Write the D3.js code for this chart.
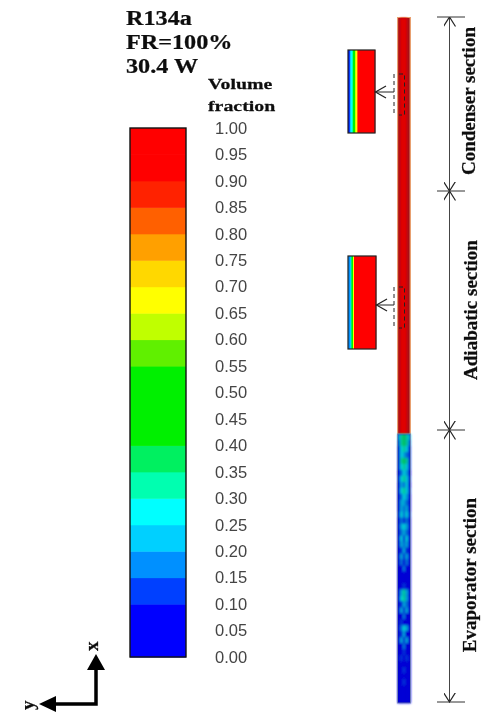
<!DOCTYPE html>
<html>
<head>
<meta charset="utf-8">
<script src="https://cdn.jsdelivr.net/npm/d3@7"></script>
<style>
  html, body { margin: 0; padding: 0; background: #fff; }
  svg { display: block; }
  .serif { font-family: "Liberation Serif", serif; font-weight: bold; fill: #111; stroke: #111; stroke-width: 0.25px; }
</style>
</head>
<body>
<svg width="482" height="716"></svg>
<script>
const titleLines = ["R134a", "FR=100%", "30.4 W"];
const legendTitle = ["Volume", "fraction"];
const tickValues = [0, 0.05, 0.1, 0.15, 0.2, 0.25, 0.3, 0.35, 0.4, 0.45, 0.5, 0.55, 0.6, 0.65, 0.7, 0.75, 0.8, 0.85, 0.9, 0.95, 1];
// one colour per 0.05 band, from 0.00 upward
const bandColors = ["#0000ff", "#0000ff", "#0040ff", "#0090ff", "#00d0ff", "#00ffff", "#00ffb0", "#00f060",
  "#00f000", "#00f000", "#00f000", "#60f000", "#c0ff00", "#ffff00", "#ffd800", "#ffa000",
  "#ff6000", "#ff2000", "#ff0000", "#ff0000"];
const sections = ["Condenser section", "Adiabatic section", "Evaporator section"];

// volume fraction across the wall in the two enlarged views
const insetCondenser = [0.02, 0.12, 0.22, 0.27, 0.32, 0.42, 0.47, 0.62, 0.67, 0.8, 0.95, 0.95, 0.95, 0.95, 0.95, 0.95, 0.95, 0.95, 0.95, 0.95, 0.95, 0.95, 0.95, 0.95, 0.95, 0.95, 0.95];
const insetAdiabatic = [0.17, 0.17, 0.22, 0.37, 0.47, 0.67, 0.95, 0.95, 0.95, 0.95, 0.95, 0.95, 0.95, 0.95, 0.95, 0.95, 0.95, 0.95, 0.95, 0.95, 0.95, 0.95, 0.95, 0.95, 0.95, 0.95, 0.95, 0.95];

// evaporator tube read top to bottom, five cells across
const evaporatorCells = [
  [0.22, 0.32, 0.37, 0.32, 0.22],
  [0.17, 0.32, 0.37, 0.32, 0.17],
  [0.12, 0.27, 0.32, 0.27, 0.12],
  [0.12, 0.27, 0.22, 0.17, 0.12],
  [0.12, 0.32, 0.37, 0.32, 0.12],
  [0.12, 0.27, 0.32, 0.27, 0.12],
  [0.07, 0.17, 0.27, 0.22, 0.07],
  [0.12, 0.27, 0.32, 0.27, 0.12],
  [0.07, 0.22, 0.17, 0.27, 0.07],
  [0.07, 0.27, 0.32, 0.27, 0.12],
  [0.07, 0.17, 0.27, 0.22, 0.07],
  [0.07, 0.22, 0.22, 0.17, 0.07],
  [0.07, 0.22, 0.17, 0.22, 0.07],
  [0.12, 0.27, 0.17, 0.27, 0.12],
  [0.07, 0.17, 0.12, 0.17, 0.07],
  [0.07, 0.22, 0.27, 0.22, 0.07],
  [0.02, 0.17, 0.22, 0.17, 0.02],
  [0.07, 0.27, 0.12, 0.27, 0.07],
  [0.02, 0.22, 0.17, 0.22, 0.02],
  [0.07, 0.12, 0.22, 0.12, 0.07],
  [0.07, 0.22, 0.12, 0.22, 0.07],
  [0.02, 0.17, 0.07, 0.17, 0.02],
  [0.02, 0.07, 0.17, 0.07, 0.02],
  [0.02, 0.07, 0.02, 0.07, 0.02],
  [0.02, 0.02, 0.07, 0.02, 0.02],
  [0.02, 0.07, 0.12, 0.07, 0.02],
  [0.02, 0.22, 0.32, 0.22, 0.02],
  [0.07, 0.27, 0.32, 0.22, 0.02],
  [0.02, 0.12, 0.22, 0.17, 0.02],
  [0.02, 0.22, 0.12, 0.22, 0.02],
  [0.02, 0.07, 0.17, 0.07, 0.02],
  [0.02, 0.12, 0.07, 0.02, 0.02],
  [0.02, 0.17, 0.27, 0.22, 0.02],
  [0.02, 0.12, 0.22, 0.07, 0.02],
  [0.02, 0.22, 0.12, 0.22, 0.02],
  [0.02, 0.07, 0.17, 0.07, 0.02],
  [0.02, 0.02, 0.12, 0.02, 0.02],
  [0.02, 0.12, 0.02, 0.12, 0.02],
  [0.02, 0.02, 0.07, 0.02, 0.02],
  [0.02, 0.07, 0.12, 0.07, 0.02],
  [0.02, 0.02, 0.07, 0.02, 0.02],
  [0.02, 0.02, 0.12, 0.02, 0.02],
  [0.02, 0.07, 0.02, 0.07, 0.02],
  [0.02, 0.02, 0.02, 0.02, 0.02],
  [0.02, 0.02, 0.07, 0.02, 0.02]
];

const svg = d3.select("svg");
const bandEdges = tickValues.slice(1, -1);
const colorOf = d3.scaleThreshold().domain(bandEdges).range(bandColors);

const defs = svg.append("defs");
defs.append("filter").attr("id", "soft").append("feGaussianBlur").attr("stdDeviation", 0.8);
defs.append("filter").attr("id", "scan").append("feGaussianBlur").attr("stdDeviation", 0.4);
defs.append("marker").attr("id", "open")
  .attr("viewBox", "0 0 10 12").attr("refX", 9.5).attr("refY", 6)
  .attr("markerWidth", 10).attr("markerHeight", 12).attr("orient", "auto-start-reverse")
  .attr("markerUnits", "userSpaceOnUse")
  .append("path").attr("d", "M0,0L9.5,6L0,12").attr("fill", "none").attr("stroke", "#222").attr("stroke-width", 1.2);

const root = svg.append("g").attr("filter", "url(#scan)");

// heading, stretched wider like the original scan
root.append("g").selectAll("text").data(titleLines).join("text")
  .attr("class", "serif").attr("transform", (d, i) => `translate(126,${25 + i * 24}) scale(1.18,1)`)
  .style("font-size", "20.5px").text(d => d);
root.append("g").selectAll("text").data(legendTitle).join("text")
  .attr("class", "serif").attr("transform", (d, i) => `translate(208,${89 + i * 22}) scale(1.28,1)`)
  .style("font-size", "15.5px").text(d => d);

// colour bar
const barY = d3.scaleLinear().domain([0, 1]).range([657, 128]);
const bar = root.append("g");
bar.selectAll("rect").data(bandColors).join("rect")
  .attr("x", 130).attr("width", 56)
  .attr("y", (d, i) => barY(tickValues[i + 1]))
  .attr("height", (d, i) => barY(tickValues[i]) - barY(tickValues[i + 1]) + 0.5)
  .attr("fill", d => d);
bar.append("rect").attr("x", 130).attr("y", barY(1)).attr("width", 56).attr("height", barY(0) - barY(1))
  .attr("fill", "none").attr("stroke", "#111").attr("stroke-width", 1.4);

const axis = root.append("g").attr("transform", "translate(206,0)")
  .call(d3.axisRight(barY).tickValues(tickValues).tickSize(0).tickPadding(9).tickFormat(d3.format(".2f")));
axis.select(".domain").remove();
axis.selectAll("text").attr("fill", "#444").style("font-family", "'Liberation Sans', Arial, sans-serif").style("font-size", "16.5px");

// tube: condenser + adiabatic are all liquid red
const tube = root.append("g");
const tubeX = 397.5, tubeW = 13;
tube.append("rect").attr("x", tubeX - 0.5).attr("y", 17).attr("width", tubeW + 1).attr("height", 418).attr("fill", "#e8a070");
tube.append("rect").attr("x", tubeX + 0.7).attr("y", 18).attr("width", tubeW - 1.6).attr("height", 417).attr("fill", "#a80c14");
tube.append("rect").attr("x", tubeX + 2.5).attr("y", 18).attr("width", 7).attr("height", 417).attr("fill", "#e00000").attr("filter", "url(#soft)");

// evaporator cells
const rowScale = d3.scaleBand().domain(d3.range(evaporatorCells.length)).range([434, 703]);
const colScale = d3.scaleBand().domain(d3.range(5)).range([tubeX, tubeX + tubeW]);
const evap = root.append("g");
evap.append("rect").attr("x", tubeX).attr("y", 434).attr("width", tubeW).attr("height", 269).attr("fill", "#0000d8");
evap.append("g").attr("filter", "url(#soft)")
  .selectAll("g").data(evaporatorCells).join("g")
  .attr("transform", (d, i) => `translate(0,${rowScale(i)})`)
  .selectAll("rect").data(d => d).join("rect")
  .attr("x", (d, i) => colScale(i)).attr("width", colScale.bandwidth() + 0.3)
  .attr("height", rowScale.bandwidth() + 0.3).attr("fill", d => colorOf(d));
// the scan is darker than the pure colour bar here
evap.append("rect").attr("x", tubeX).attr("y", 434).attr("width", tubeW).attr("height", 269)
  .attr("fill", "#000030").attr("fill-opacity", 0.2);
evap.append("rect").attr("x", tubeX).attr("y", 434).attr("width", tubeW).attr("height", 269)
  .attr("fill", "none").attr("stroke", "#8090b0").attr("stroke-width", 1).attr("stroke-opacity", 0.8);

// enlarged views
const insets = [
  { values: insetCondenser, x: 348, y: 50, w: 27, h: 83, cy: 92 },
  { values: insetAdiabatic, x: 348, y: 256, w: 28, h: 93, cy: 305 }
];
insets.forEach(inset => {
  const xs = d3.scaleBand().domain(d3.range(inset.values.length)).range([inset.x, inset.x + inset.w]);
  const g = root.append("g");
  g.selectAll("rect").data(inset.values).join("rect")
    .attr("x", (d, i) => xs(i)).attr("y", inset.y)
    .attr("width", xs.bandwidth() + 0.3).attr("height", inset.h)
    .attr("fill", d => colorOf(d));
  g.append("rect").attr("x", inset.x).attr("y", inset.y).attr("width", inset.w).attr("height", inset.h)
    .attr("fill", "none").attr("stroke", "#222").attr("stroke-width", 1.2);

  // dashed marker on the tube and the arrow out to the view
  const top = inset.cy - 18, bottom = inset.cy + 23;
  g.append("path")
    .attr("d", `M399,${top}H404.5V${bottom}H399M394,${top}V${bottom}`)
    .attr("fill", "none").attr("stroke", "#222").attr("stroke-width", 1).attr("stroke-dasharray", "4,3");
  g.append("path")
    .attr("d", `M394,${inset.cy}H${inset.x + inset.w}`)
    .attr("fill", "none").attr("stroke", "#222").attr("stroke-width", 1);
  g.append("path")
    .attr("d", `M${inset.x + inset.w + 11},${inset.cy - 6}L${inset.x + inset.w + 0.5},${inset.cy}L${inset.x + inset.w + 11},${inset.cy + 6}`)
    .attr("fill", "none").attr("stroke", "#222").attr("stroke-width", 1.2);
});

// section dimension lines
const spans = [
  { y0: 17, y1: 191, tx: 475, ty: 101 },
  { y0: 191, y1: 430, tx: 477, ty: 310 },
  { y0: 430, y1: 702, tx: 476, ty: 575 }
];
const dims = root.append("g");
spans.forEach((s, i) => {
  dims.append("line").attr("x1", 449.5).attr("x2", 449.5).attr("y1", s.y0).attr("y2", s.y1)
    .attr("stroke", "#444").attr("stroke-width", 1)
    .attr("marker-start", "url(#open)").attr("marker-end", "url(#open)");
  dims.append("text").attr("class", "serif")
    .attr("transform", `translate(${s.tx},${s.ty}) rotate(-90)`)
    .attr("text-anchor", "middle").style("font-size", "19px").text(sections[i]);
});
dims.selectAll("line.tick").data([17, 191, 430, 702]).join("line").attr("class", "tick")
  .attr("x1", 437).attr("x2", 465).attr("y1", d => d).attr("y2", d => d)
  .attr("stroke", "#333").attr("stroke-width", 1);

// x / y orientation arrows
const orient = root.append("g");
orient.append("path").attr("d", "M96,668V704H52").attr("fill", "none").attr("stroke", "#000").attr("stroke-width", 3.5);
orient.append("path").attr("d", "M96,654L105,670H87Z").attr("fill", "#000");
orient.append("path").attr("d", "M39,704L56,696V712Z").attr("fill", "#000");
orient.append("text").attr("class", "serif").attr("transform", "translate(98,651) rotate(-90)")
  .style("font-size", "19px").text("x");
orient.append("text").attr("class", "serif").attr("transform", "translate(34,710) rotate(-90)")
  .style("font-size", "19px").text("y");
</script>
</body>
</html>
